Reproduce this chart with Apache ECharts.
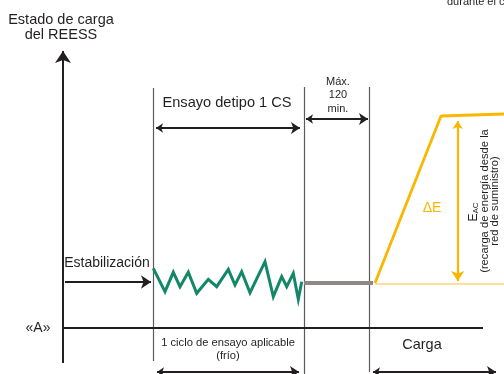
<!DOCTYPE html>
<html>
<head>
<meta charset="utf-8">
<title>Estado de carga del REESS</title>
<script src="https://cdn.jsdelivr.net/npm/echarts@6/dist/echarts.min.js"></script>
<style>
    html, body { margin: 0; padding: 0; background: #fff; }
    #chart { width: 504px; height: 374px; }
</style>
</head>
<body>
<div id="chart"></div>
<script>
// unidades del diagrama: x hacia la derecha, y hacia abajo
var guideX      = [153, 304, 369];
var guideTop    = [88, 87, 87];
var guideBottom = [361, 374, 372];

var cycleX = [153.3, 165, 173.3, 180, 188.3, 196.7, 208.3, 216.7, 228.3, 235, 241.7, 250, 265, 273.3, 281.7, 286.7, 293.3, 298.3, 301.7];
var cycleY = [268.3, 291.7, 272.3, 286.7, 272.3, 293.3, 279.3, 286.7, 269.3, 285, 271.7, 292.7, 261.7, 296.7, 276.7, 286.7, 273.3, 299.3, 281.7];

var restX = [304, 373];
var restY = [283, 283];

var chargeX = [375, 441, 504];
var chargeY = [283, 116, 114];

var levelX = [375, 504];
var levelY = [284, 284];

// flechas: [x1, y1, x2, y2]
var axisArrow   = [63, 363, 63, 51];
var baseLine    = [62, 328, 483, 328];
var stabArrow   = [65, 282, 151, 282];
var testArrow   = [156, 128, 300, 128];
var maxArrow    = [306, 119, 368, 119];
var cycleArrow  = [157, 372, 299, 372];
var chargeArrow = [373, 372, 496, 372];
var deltaArrow  = [457.7, 121, 457.7, 281];

var font = '"Liberation Sans", Arial, sans-serif';
var dark = '#231f20';
var yellow = '#f9b700';

function pairs(xs, ys) {
    return xs.map(function (x, i) { return [x, ys[i]]; });
}

function seg(a) {
    return [[a[0], a[1]], [a[2], a[3]]];
}

function arrowSeries(list, color, width, symbols, size) {
    return {
        type: 'lines',
        coordinateSystem: 'cartesian2d',
        symbol: symbols,
        symbolSize: size,
        silent: true,
        lineStyle: { color: color, width: width, opacity: 1 },
        data: list.map(function (a) { return { coords: seg(a) }; })
    };
}

function label(x, y, text, size, color) {
    return {
        type: 'text', x: x, y: y,
        style: { text: text, font: size + 'px ' + font, fill: color || dark, align: 'center', verticalAlign: 'middle' }
    };
}

var guides = guideX.map(function (x, i) {
    return { coords: [[x, guideTop[i]], [x, guideBottom[i]]] };
});

var myChart = echarts.init(document.getElementById('chart'));

myChart.setOption({
    animation: false,
    grid: { left: 0, right: 0, top: 0, bottom: 0 },
    xAxis: { type: 'value', min: 0, max: 504, show: false },
    yAxis: { type: 'value', min: 0, max: 374, inverse: true, show: false },
    series: [
        {
            type: 'lines',
            coordinateSystem: 'cartesian2d',
            silent: true,
            lineStyle: { color: '#5f5a5a', width: 1.2, opacity: 1 },
            data: guides
        },
        arrowSeries([axisArrow], dark, 2, ['none', 'arrow'], [8, 12]),
        arrowSeries([baseLine], dark, 2, ['none', 'none'], 0),
        arrowSeries([stabArrow], dark, 2.2, ['none', 'arrow'], [8, 10]),
        arrowSeries([testArrow, maxArrow, cycleArrow, chargeArrow], dark, 1.8, ['arrow', 'arrow'], [7, 9]),
        {
            type: 'line',
            data: pairs(levelX, levelY),
            symbol: 'none',
            silent: true,
            lineStyle: { color: '#fcd672', width: 1.5 }
        },
        {
            type: 'line',
            data: pairs(restX, restY),
            symbol: 'none',
            silent: true,
            lineStyle: { color: '#8e8887', width: 4 }
        },
        {
            type: 'line',
            data: pairs(cycleX, cycleY),
            symbol: 'none',
            silent: true,
            lineStyle: { color: '#13876a', width: 3, join: 'miter' }
        },
        {
            type: 'line',
            data: pairs(chargeX, chargeY),
            symbol: 'none',
            silent: true,
            lineStyle: { color: yellow, width: 2.8 }
        },
        arrowSeries([deltaArrow], yellow, 2.2, ['arrow', 'arrow'], [8, 10])
    ],
    graphic: [
        label(61, 20, 'Estado de carga', 14.5),
        label(61, 35, 'del REESS', 14.5),
        { type: 'text', x: 447, y: 7, style: { text: 'durante el ciclo', font: '11px ' + font, fill: dark, align: 'left', verticalAlign: 'bottom' } },
        label(227, 103, 'Ensayo detipo 1 CS', 14.6),
        label(338, 82, 'Máx.', 11),
        label(338, 95, '120', 11),
        label(338, 109, 'min.', 11),
        label(107, 263, 'Estabilización', 14),
        label(38, 328, '«A»', 14),
        label(228, 343, '1 ciclo de ensayo aplicable', 11.2),
        label(228, 356, '(frío)', 11.2),
        label(422, 345, 'Carga', 14.5),
        label(432, 208, 'ΔE', 14, yellow),
        {
            type: 'text', x: 474, y: 212, rotation: Math.PI / 2,
            style: {
                text: '{e|E}{s|AC}',
                align: 'center', verticalAlign: 'middle',
                rich: {
                    e: { font: '12px ' + font, fill: dark },
                    s: { font: '8px ' + font, fill: dark, verticalAlign: 'bottom', padding: [4, 0, 0, 0] }
                }
            }
        },
        { type: 'text', x: 485, y: 201, rotation: Math.PI / 2, style: { text: '(recarga de energía desde la', font: '11.2px ' + font, fill: dark, align: 'center', verticalAlign: 'middle' } },
        { type: 'text', x: 495, y: 201, rotation: Math.PI / 2, style: { text: 'red de suministro)', font: '11.2px ' + font, fill: dark, align: 'center', verticalAlign: 'middle' } }
    ]
});
</script>
</body>
</html>
